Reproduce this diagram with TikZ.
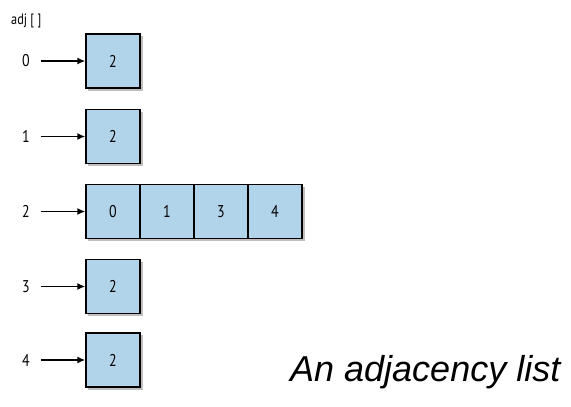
\documentclass[tikz,border=0pt]{standalone}
\usepackage{fontspec}
\setmainfont{PT Sans}
\newfontfamily\capfont{Liberation Sans}
\usetikzlibrary{arrows.meta,shadows}
\definecolor{cellblue}{RGB}{178,212,234}
\newcommand{\cnd}[1]{\scalebox{0.82}[1]{#1}}
\tikzset{
  cell/.style={draw=black, line width=1.3pt, fill=cellblue, minimum width=54pt, minimum height=54pt, inner sep=0pt, font=\fontsize{17}{17}\selectfont},
  idx/.style={font=\fontsize{17}{17}\selectfont, inner sep=0pt},
  ptr/.style={-{Latex[length=8pt,width=7pt]}, line width=1.6pt},
}
\begin{document}
\begin{tikzpicture}[x=1pt,y=-1pt]
\useasboundingbox (0,0) rectangle (571,407);
\node[idx, anchor=west, font=\fontsize{15}{15}\selectfont] (adj) at (11,21) {\cnd{adj [ ]}};
% shadows
\foreach \yy in {61,136.5,286.5,360} {\fill[black!25] (88,\yy-25) rectangle (142.5,\yy+29.5);}
\fill[black!25] (88,211.5-25) rectangle (304.5,211.5+29.5);
% rows
\node[cell] (b0) at (113,61) {\cnd{2}};
\node[cell] (b1) at (113,136.5) {\cnd{2}};
\node[cell] (c0) at (113,211.5) {\cnd{0}};
\node[cell] (c1) at (167,211.5) {\cnd{1}};
\node[cell] (c2) at (221,211.5) {\cnd{3}};
\node[cell] (c3) at (275,211.5) {\cnd{4}};
\node[cell] (b3) at (113,286.5) {\cnd{2}};
\node[cell] (b4) at (113,360) {\cnd{2}};
\node[idx] (i0) at (26,61) {\cnd{0}};
\node[idx] (i1) at (26,136.5) {\cnd{1}};
\node[idx] (i2) at (26,211.5) {\cnd{2}};
\node[idx] (i3) at (26,286.5) {\cnd{3}};
\node[idx] (i4) at (26,360) {\cnd{4}};
\draw[ptr] (i0.east) ++(11,0) coordinate (s0) -- (b0.west);
\draw[ptr] (i1.east) ++(11,0) coordinate (s1) -- (b1.west);
\draw[ptr] (i2.east) ++(11,0) coordinate (s2) -- (c0.west);
\draw[ptr] (i3.east) ++(11,0) coordinate (s3) -- (b3.west);
\draw[ptr] (i4.east) ++(11,0) coordinate (s4) -- (b4.west);
\node[anchor=base west, inner sep=0pt, font=\capfont\itshape\fontsize{36}{36}\selectfont] (cap) at (290,381) {An adjacency list};
\end{tikzpicture}
\end{document}
